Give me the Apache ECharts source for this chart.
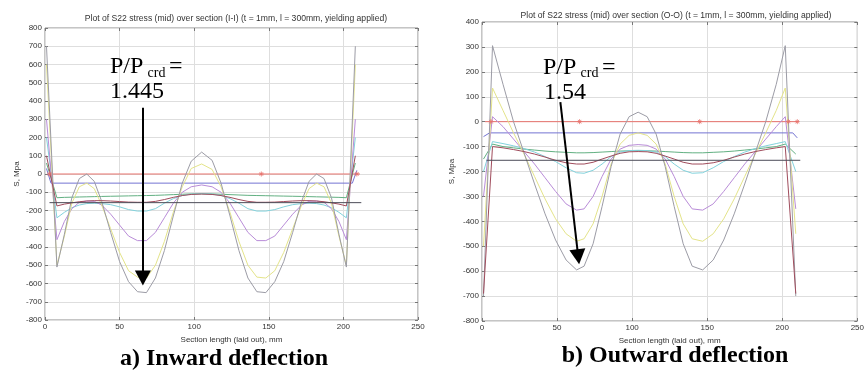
<!DOCTYPE html>
<html lang="en">
<head>
<meta charset="UTF-8">
<title>S22 stress over section</title>
<script src="https://cdn.jsdelivr.net/npm/echarts@6/dist/echarts.min.js"></script>
<style>
  html, body { margin: 0; padding: 0; background: #fff; }
  #main { width: 867px; height: 370px; }
</style>
</head>
<body>
<div id="main"></div>
<script type="text/javascript">
// ---- a) inward deflection, section (I-I) ----
const xL      = [1, 8, 13, 18, 23, 28, 33, 38, 44, 50, 56, 62, 68, 74, 80, 86, 92, 98, 105, 112, 118, 124, 130, 136, 142, 148, 154, 160, 166, 172, 177, 182, 187, 192, 197, 202, 208];
const grayL   = [700, -510, -330, -130, -25, 0, -40, -150, -320, -480, -590, -645, -650, -570, -420, -230, -50, 70, 120, 75, -50, -230, -420, -570, -645, -650, -590, -480, -320, -150, -40, 0, -25, -130, -330, -510, 700];
const yellowL = [600, -500, -340, -160, -70, -50, -80, -170, -300, -430, -530, -565, -570, -500, -370, -210, -70, 30, 55, 25, -70, -210, -370, -500, -565, -570, -530, -430, -300, -170, -80, -50, -70, -160, -340, -500, 600];
const violetL = [300, -360, -260, -190, -155, -148, -150, -170, -220, -280, -340, -365, -365, -320, -240, -160, -100, -70, -60, -70, -100, -160, -240, -320, -365, -365, -340, -280, -220, -170, -150, -148, -155, -190, -260, -360, 300];
const cyanL   = [200, -240, -210, -185, -170, -162, -160, -162, -168, -180, -195, -203, -203, -190, -160, -135, -118, -110, -108, -110, -118, -135, -160, -190, -203, -203, -195, -180, -168, -162, -160, -162, -170, -185, -210, -240, 200];
const maroonL = [100, -175, -165, -158, -152, -148, -146, -146, -148, -151, -154, -155, -155, -150, -140, -128, -118, -112, -110, -112, -118, -128, -140, -150, -155, -155, -154, -151, -148, -146, -146, -148, -152, -158, -165, -175, 100];
const greenL  = [60, -130, -128, -127, -126, -125, -124, -123, -122, -121, -120, -119, -118, -117, -115, -113, -111, -109, -108, -109, -111, -113, -115, -117, -118, -119, -120, -121, -122, -123, -124, -125, -126, -127, -128, -130, 60];
const blueLX  = [1, 4, 206, 209];
const blueL   = [30, -50, -50, 20];
const blackLX = [3, 212];
const blackL  = [-157, -157];
const redLX   = [2, 211];
const redL    = [0, 0];
const redMarkLX = [3, 145, 209];

// ---- b) outward deflection, section (O-O) ----
const xR      = [1, 7, 14, 21, 28, 35, 42, 49, 56, 63, 68, 74, 80, 86, 92, 98, 104, 110, 116, 122, 128, 134, 140, 147, 154, 161, 168, 175, 182, 189, 196, 202, 209];
const grayR   = [-700, 305, 150, 0, -125, -250, -370, -475, -555, -595, -580, -490, -340, -180, -50, 20, 38, 20, -50, -180, -340, -490, -580, -595, -555, -475, -370, -250, -125, 0, 150, 305, -700];
const yellowR = [-500, 135, 45, -45, -130, -220, -310, -390, -450, -480, -470, -410, -300, -170, -90, -55, -45, -55, -90, -170, -300, -410, -470, -480, -450, -390, -310, -220, -130, -45, 45, 135, -450];
const violetR = [-300, 20, -20, -70, -120, -170, -225, -280, -330, -355, -350, -300, -220, -150, -110, -95, -92, -95, -110, -150, -220, -300, -350, -355, -330, -280, -225, -170, -120, -70, -20, 20, -350];
const cyanR   = [-200, -80, -88, -97, -108, -122, -140, -160, -185, -205, -207, -195, -170, -140, -122, -116, -115, -116, -122, -140, -170, -195, -207, -205, -185, -160, -140, -122, -108, -97, -88, -80, -200];
const maroonR = [-690, -100, -105, -112, -120, -130, -142, -155, -165, -170, -170, -163, -150, -138, -127, -121, -120, -121, -127, -138, -150, -163, -170, -170, -165, -155, -142, -130, -120, -112, -105, -100, -690];
const greenR  = [-150, -90, -100, -105, -110, -114, -118, -121, -123, -125, -125, -124, -122, -120, -118, -117, -116, -117, -118, -120, -122, -124, -125, -125, -123, -121, -118, -114, -110, -105, -100, -90, -130];
const blueRX  = [1, 5, 207, 210];
const blueR   = [-60, -45, -45, -65];
const blackRX = [3, 212];
const blackR  = [-155, -155];
const redRX   = [2, 211];
const redR    = [0, 0];
const redMarkRX = [6, 65, 145, 204, 210];

// annotation arrows: start, end (in data units) and head rotation (deg)
const arrowL = [[65.6, 363], [65.6, -570]];
const arrowR = [[52.2, 78], [64.1, -542]];
const headRotL = 180;
const headRotR = 186.8;

const COL = {
    red: '#e8726c', blue: '#7474d2', green: '#62b082', cyan: '#82d2dc',
    violet: '#b98cd8', yellow: '#e4e48a', gray: '#9c9ca6', maroon: '#a04c5c', black: '#4c4c58'
};

function pts(xs, vs) {
    return xs.map(function (x, i) { return [x, vs[i]]; });
}

const sans = 'Liberation Sans, Arial, sans-serif';
const serif = 'Liberation Serif, Times New Roman, serif';
const tick = { show: true, inside: true, length: 3, lineStyle: { color: '#777' } };

function xAxes(grid, name, gap) {
    return [{
        gridIndex: grid, type: 'value', min: 0, max: 250, interval: 50,
        name: name, nameLocation: 'middle', nameGap: gap,
        nameTextStyle: { fontSize: 8, color: '#333', fontFamily: sans },
        axisLine: { show: false, onZero: false },
        axisTick: tick,
        axisLabel: { fontSize: 8, color: '#333', margin: 3, fontFamily: sans, showMaxLabel: true },
        splitLine: { show: true, lineStyle: { color: '#dedede', width: 1 } }
    }, {
        gridIndex: grid, type: 'value', min: 0, max: 250, interval: 50, position: 'top',
        axisLine: { show: false, onZero: false },
        axisTick: tick,
        axisLabel: { show: false }, splitLine: { show: false }
    }];
}

function yAxes(grid, min, max, gap) {
    return [{
        gridIndex: grid, type: 'value', min: min, max: max, interval: 100,
        name: 'S, Mpa', nameLocation: 'middle', nameGap: gap,
        nameTextStyle: { fontSize: 8, color: '#333', fontFamily: sans },
        axisLine: { show: false, onZero: false },
        axisTick: tick,
        axisLabel: { fontSize: 8, color: '#333', margin: 3, fontFamily: sans },
        splitLine: { show: true, lineStyle: { color: '#dedede', width: 1 } }
    }, {
        gridIndex: grid, type: 'value', min: min, max: max, interval: 100, position: 'right',
        axisLine: { show: false, onZero: false },
        axisTick: tick,
        axisLabel: { show: false }, splitLine: { show: false }
    }];
}

function line(xi, yi, data, color, z) {
    return {
        type: 'line', xAxisIndex: xi, yAxisIndex: yi, data: data,
        showSymbol: false, silent: true, z: z || 2,
        lineStyle: { width: 1, color: color }, itemStyle: { color: color }
    };
}

function marks(xi, yi, xs) {
    return {
        type: 'scatter', xAxisIndex: xi, yAxisIndex: yi, silent: true, z: 3,
        data: xs.map(function (x) { return [x, 0]; }),
        symbol: 'path://M0,5L10,5M5,0L5,10M1.5,1.5L8.5,8.5M8.5,1.5L1.5,8.5',
        symbolSize: 5,
        itemStyle: { color: 'none', borderColor: COL.red, borderWidth: 1 }
    };
}

function arrow(xi, yi, a, rot) {
    return [{
        type: 'line', xAxisIndex: xi, yAxisIndex: yi, data: [], silent: true, z: 10,
        markLine: {
            silent: true, animation: false, symbol: 'none',
            label: { show: false },
            lineStyle: { color: '#000', width: 2, type: 'solid' },
            emphasis: { disabled: true },
            data: [[{ coord: a[0] }, { coord: a[1] }]]
        }
    }, {
        type: 'scatter', xAxisIndex: xi, yAxisIndex: yi, silent: true, z: 11,
        data: [a[1]], symbol: 'triangle', symbolSize: [16, 15], symbolRotate: rot,
        itemStyle: { color: '#000', opacity: 1 }
    }];
}

function series(xi, yi, d) {
    return [
        line(xi, yi, d.red, COL.red),
        line(xi, yi, d.blue, COL.blue),
        line(xi, yi, d.green, COL.green),
        line(xi, yi, d.cyan, COL.cyan),
        line(xi, yi, d.violet, COL.violet),
        line(xi, yi, d.yellow, COL.yellow),
        line(xi, yi, d.gray, COL.gray),
        line(xi, yi, d.maroon, COL.maroon),
        line(xi, yi, d.black, COL.black),
        marks(xi, yi, d.marks)
    ].concat(arrow(xi, yi, d.arrow, d.rot));
}

const left = {
    red: pts(redLX, redL), blue: pts(blueLX, blueL), green: pts(xL, greenL), cyan: pts(xL, cyanL),
    violet: pts(xL, violetL), yellow: pts(xL, yellowL), gray: pts(xL, grayL), maroon: pts(xL, maroonL),
    black: pts(blackLX, blackL), marks: redMarkLX, arrow: arrowL, rot: headRotL
};
const right = {
    red: pts(redRX, redR), blue: pts(blueRX, blueR), green: pts(xR, greenR), cyan: pts(xR, cyanR),
    violet: pts(xR, violetR), yellow: pts(xR, yellowR), gray: pts(xR, grayR), maroon: pts(xR, maroonR),
    black: pts(blackRX, blackR), marks: redMarkRX, arrow: arrowR, rot: headRotR
};

function txt(x, y, s, size, opts) {
    opts = opts || {};
    return {
        type: 'text', x: x, y: y, silent: true, z: 20,
        style: {
            text: s, fill: '#000', font: (opts.bold ? 'bold ' : '') + size + 'px ' + serif,
            align: opts.align || 'left', verticalAlign: 'middle'
        }
    };
}

var myChart = echarts.init(document.getElementById('main'), null, { renderer: 'canvas' });

var option = {
    animation: false,
    backgroundColor: '#fff',
    title: [{
        text: 'Plot of S22 stress (mid) over section (I-I) (t = 1mm, l = 300mm, yielding applied)',
        left: 231, top: 9, textAlign: 'center',
        textStyle: { fontSize: 8.6, fontWeight: 'normal', color: '#333', fontFamily: sans }
    }, {
        text: 'Plot of S22 stress (mid) over section (O-O) (t = 1mm, l = 300mm, yielding applied)',
        left: 671, top: 6, textAlign: 'center',
        textStyle: { fontSize: 8.6, fontWeight: 'normal', color: '#333', fontFamily: sans }
    }],
    grid: [
        { left: 45, top: 28, width: 373, height: 292, show: true, borderColor: '#8a8a8a', borderWidth: 1, backgroundColor: 'transparent' },
        { left: 482, top: 22, width: 382, height: 299, show: true, borderColor: '#8a8a8a', borderWidth: 1, backgroundColor: 'transparent' }
    ],
    xAxis: xAxes(0, 'Section length (laid out), mm', 15).concat(xAxes(1, 'Section length (laid out), mm', 16)),
    yAxis: yAxes(0, -800, 800, 24).concat(yAxes(1, -800, 400, 26)),
    series: series(0, 0, left).concat(series(2, 2, right)),
    graphic: [
        txt(110, 67, 'P/P', 24), txt(147.5, 73, 'crd', 14), txt(169, 67, '=', 24),
        txt(110, 92, '1.445', 24),
        txt(543, 67.5, 'P/P', 24), txt(580.5, 73.5, 'crd', 14), txt(602, 67.5, '=', 24),
        txt(544, 92.5, '1.54', 24),
        txt(224, 358.5, 'a) Inward deflection', 24, { bold: true, align: 'center' }),
        txt(675, 355.5, 'b) Outward deflection', 24, { bold: true, align: 'center' })
    ]
};

myChart.setOption(option);
</script>
</body>
</html>
